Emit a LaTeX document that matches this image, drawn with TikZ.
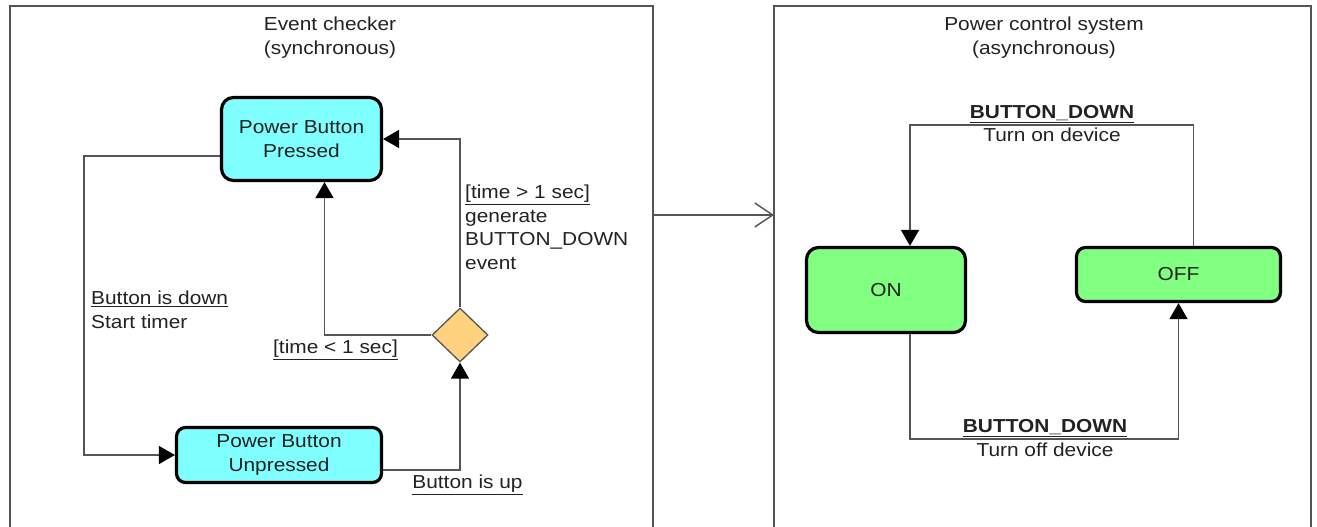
\documentclass[tikz,border=0pt]{standalone}
\usepackage{fontspec}
\setmainfont[FakeStretch=1.11]{Liberation Sans}
\usetikzlibrary{arrows.meta,shapes.geometric}

\definecolor{statecyan}{HTML}{80FFFF}
\definecolor{stategreen}{HTML}{80FF80}
\definecolor{choiceorange}{HTML}{FFD27F}
\definecolor{wire}{HTML}{555555}
\definecolor{ink}{HTML}{222222}

\tikzset{
  txt/.style={font=\fontsize{18.8}{23.5}\selectfont, text=ink, inner sep=0pt, align=center},
  statebox/.style={txt, draw=black, line width=3.2pt, rounded corners=#1},
  statebox/.default=12pt,
  frame/.style={draw=wire, line width=1.4pt},
  conn/.style={draw=wire, line width=1.4pt},
  tip/.style={-{Triangle[length=16pt,width=18pt,fill=black,color=black]}},
  openbarb/.style={-{Straight Barb[length=18pt,width=24pt]}}
}

\begin{document}
\begin{tikzpicture}[x=1pt,y=-1pt]
  \useasboundingbox (0,0) rectangle (1317,527);

  % the two subsystem frames, open at the bottom
  \draw[frame] (10,527) -- (10,6) -- (653,6) -- (653,527);
  \draw[frame] (774,527) -- (774,6) -- (1311,6) -- (1311,527);
  \coordinate (chkR) at (653,215);
  \coordinate (pwrL) at (774,215);

  % titles
  \node[txt] (chktitle) at (330,37.5) {Event checker\\(synchronous)};
  \node[txt] (pwrtitle) at (1044,37.5) {Power control system\\(asynchronous)};

  % event checker states
  \node[statebox, fill=statecyan, minimum width=160pt, minimum height=83pt]
    (pressed) at (301.5,139) {Power Button\\Pressed};
  \node[statebox=9pt, fill=statecyan, minimum width=205pt, minimum height=55pt]
    (unpressed) at (279,455) {Power Button\\Unpressed};
  \node[diamond, aspect=1, draw=wire, line width=1.3pt, fill=choiceorange,
        minimum width=56pt, minimum height=54pt, inner sep=0pt]
    (choice) at (460,335) {};

  % power control states
  \node[statebox, fill=stategreen, minimum width=159pt, minimum height=85pt]
    (on) at (886,290) {ON};
  \node[statebox=9pt, fill=stategreen, minimum width=204pt, minimum height=54pt]
    (off) at (1178.5,274.5) {OFF};

  % event checker transitions
  \draw[conn,tip] ([yshift=-17pt]pressed.west) -- ++(-136,0) |- (unpressed.west);
  \draw[conn,tip] ([yshift=-15pt]unpressed.east) -| (choice.south);
  \draw[conn,tip] (choice.north) |- (pressed.east);
  \draw[conn,tip] (choice.west) -| ([xshift=23pt]pressed.south);

  % power control transitions
  \draw[conn,tip] ([xshift=15pt]off.north) -- ++(0,-121) -| ([xshift=24pt]on.north);
  \draw[conn,tip] ([xshift=24pt]on.south) -- ++(0,105) -| (off.south);

  % event passed between the subsystems
  \draw[conn,openbarb] (chkR) -- (pwrL);

  % transition labels
  \node[txt, anchor=west, align=left] (downlbl) at (91,310)
    {\underline{Button is down}\\Start timer};
  \node[txt, anchor=west, align=left] (gtlbl) at (465,227.5)
    {\underline{[time > 1 sec]}\\generate\\BUTTON\_DOWN\\event};
  \node[txt] (ltlbl) at (335.5,349.6) {\underline{[time < 1 sec]}};
  \node[txt] (uplbl) at (467.5,485) {\underline{Button is up}};
  \node[txt] (onlbl) at (1052,123.5)
    {\textbf{\underline{BUTTON\_DOWN}}\\Turn on device};
  \node[txt] (offlbl) at (1045,438)
    {\textbf{\underline{BUTTON\_DOWN}}\\Turn off device};
\end{tikzpicture}
\end{document}
